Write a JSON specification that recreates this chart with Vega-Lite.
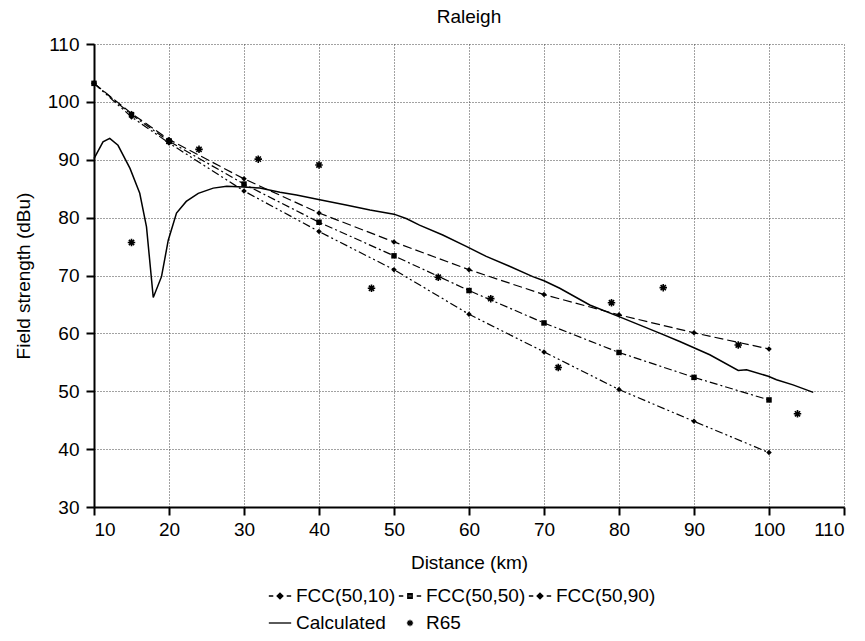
{
  "$schema": "https://vega.github.io/schema/vega-lite/v6.json",
  "autosize": {"type": "none"},
  "width": 750,
  "height": 463,
  "padding": {"left": 94, "top": 44, "right": 21, "bottom": 134},
  "background": "white",
  "title": {"text": "Raleigh", "fontSize": 19, "fontWeight": "normal", "font": "Liberation Sans", "color": "black", "anchor": "middle", "frame": "group", "offset": 8},
  "config": {
    "font": "Liberation Sans",
    "view": {"stroke": null},
    "axis": {
      "grid": true, "gridColor": "#444", "gridDash": [1, 2], "gridWidth": 1,
      "domainColor": "black", "domainWidth": 2,
      "tickColor": "black", "tickWidth": 2, "tickSize": 8,
      "labelFontSize": 19, "labelColor": "black", "labelFont": "Liberation Sans",
      "titleFontSize": 19, "titleFontWeight": "normal", "titleColor": "black", "titleFont": "Liberation Sans"
    },
    "legend": {"labelFontSize": 19, "labelFont": "Liberation Sans", "labelColor": "black"}
  },
  "datasets": {
    "fcc": [
      {"series": "FCC(50,10)", "d": 10, "v": 103.2},
      {"series": "FCC(50,10)", "d": 15, "v": 98.0},
      {"series": "FCC(50,10)", "d": 20, "v": 93.5},
      {"series": "FCC(50,10)", "d": 30, "v": 86.7},
      {"series": "FCC(50,10)", "d": 40, "v": 80.8},
      {"series": "FCC(50,10)", "d": 50, "v": 75.8},
      {"series": "FCC(50,10)", "d": 60, "v": 71.0},
      {"series": "FCC(50,10)", "d": 70, "v": 66.7},
      {"series": "FCC(50,10)", "d": 80, "v": 63.2},
      {"series": "FCC(50,10)", "d": 90, "v": 60.1},
      {"series": "FCC(50,10)", "d": 100, "v": 57.3},
      {"series": "FCC(50,50)", "d": 10, "v": 103.2},
      {"series": "FCC(50,50)", "d": 15, "v": 97.8},
      {"series": "FCC(50,50)", "d": 20, "v": 93.2},
      {"series": "FCC(50,50)", "d": 30, "v": 85.8},
      {"series": "FCC(50,50)", "d": 40, "v": 79.2},
      {"series": "FCC(50,50)", "d": 50, "v": 73.4},
      {"series": "FCC(50,50)", "d": 60, "v": 67.4},
      {"series": "FCC(50,50)", "d": 70, "v": 61.8},
      {"series": "FCC(50,50)", "d": 80, "v": 56.7},
      {"series": "FCC(50,50)", "d": 90, "v": 52.4},
      {"series": "FCC(50,50)", "d": 100, "v": 48.5},
      {"series": "FCC(50,90)", "d": 10, "v": 103.2},
      {"series": "FCC(50,90)", "d": 15, "v": 97.4},
      {"series": "FCC(50,90)", "d": 20, "v": 92.9},
      {"series": "FCC(50,90)", "d": 30, "v": 84.6},
      {"series": "FCC(50,90)", "d": 40, "v": 77.6},
      {"series": "FCC(50,90)", "d": 50, "v": 71.0},
      {"series": "FCC(50,90)", "d": 60, "v": 63.3},
      {"series": "FCC(50,90)", "d": 70, "v": 56.8},
      {"series": "FCC(50,90)", "d": 80, "v": 50.3},
      {"series": "FCC(50,90)", "d": 90, "v": 44.8},
      {"series": "FCC(50,90)", "d": 100, "v": 39.4}
    ],
    "calc": [
      {"d": 10.0, "v": 90.2}, {"d": 11.2, "v": 93.1}, {"d": 12.1, "v": 93.7}, {"d": 13.2, "v": 92.5},
      {"d": 14.8, "v": 88.5}, {"d": 16.1, "v": 84.2}, {"d": 17.0, "v": 78.4}, {"d": 17.9, "v": 66.2},
      {"d": 19.0, "v": 69.8}, {"d": 19.9, "v": 76.1}, {"d": 21.0, "v": 80.8}, {"d": 22.3, "v": 82.8},
      {"d": 23.9, "v": 84.2}, {"d": 25.9, "v": 85.1}, {"d": 27.7, "v": 85.4}, {"d": 29.9, "v": 85.3},
      {"d": 32.1, "v": 85.1}, {"d": 34.8, "v": 84.4}, {"d": 37.0, "v": 83.9}, {"d": 40.1, "v": 83.1},
      {"d": 43.6, "v": 82.2}, {"d": 46.8, "v": 81.3}, {"d": 50.0, "v": 80.6}, {"d": 51.7, "v": 79.8},
      {"d": 53.4, "v": 78.7}, {"d": 56.5, "v": 77.0}, {"d": 59.7, "v": 75.0}, {"d": 62.3, "v": 73.3},
      {"d": 65.4, "v": 71.6}, {"d": 68.5, "v": 69.8}, {"d": 70.0, "v": 69.1}, {"d": 72.1, "v": 67.8},
      {"d": 76.1, "v": 64.9}, {"d": 80.0, "v": 62.9}, {"d": 85.5, "v": 60.0}, {"d": 88.1, "v": 58.6},
      {"d": 92.1, "v": 56.3}, {"d": 95.9, "v": 53.6}, {"d": 97.0, "v": 53.7}, {"d": 99.9, "v": 52.6},
      {"d": 101.0, "v": 52.0}, {"d": 103.2, "v": 51.1}, {"d": 105.9, "v": 49.8}
    ],
    "r65": [
      {"d": 15, "v": 75.7}, {"d": 20, "v": 93.2}, {"d": 24, "v": 91.8}, {"d": 31.9, "v": 90.1},
      {"d": 40, "v": 89.1}, {"d": 47, "v": 67.8}, {"d": 55.9, "v": 69.7}, {"d": 62.9, "v": 66.0},
      {"d": 71.9, "v": 54.1}, {"d": 79, "v": 65.3}, {"d": 85.9, "v": 67.9}, {"d": 95.9, "v": 58.0},
      {"d": 103.8, "v": 46.1}
    ],
    "legend": [
      {"series": "FCC(50,10)"}, {"series": "FCC(50,50)"}, {"series": "FCC(50,90)"},
      {"series": "Calculated"}, {"series": "R65"}
    ]
  },
  "layer": [
    {
      "data": {"name": "fcc"},
      "mark": {"type": "line", "color": "black", "strokeWidth": 1.2},
      "encoding": {
        "x": {"field": "d", "type": "quantitative", "scale": {"domain": [10, 110], "nice": false},
              "axis": {"title": "Distance (km)", "values": [10, 20, 30, 40, 50, 60, 70, 80, 90, 100, 110], "labelPadding": 5, "titlePadding": 14,
                       "encode": {"ticks": {"update": {"y": {"value": -8}}}}}},
        "y": {"field": "v", "type": "quantitative", "scale": {"domain": [30, 110], "nice": false},
              "axis": {"title": "Field strength (dBu)", "values": [30, 40, 50, 60, 70, 80, 90, 100, 110], "labelPadding": 7, "titlePadding": 14,
                       "encode": {"ticks": {"update": {"x": {"value": 8}}}}}},
        "strokeDash": {"field": "series", "type": "nominal", "legend": null,
                       "scale": {"domain": ["FCC(50,10)", "FCC(50,50)", "FCC(50,90)"], "range": [[9, 4], [8, 3, 2, 3], [8, 3, 2, 3, 2, 3]]}}
      }
    },
    {
      "data": {"name": "fcc"},
      "transform": [{"filter": "datum.series != 'FCC(50,50)'"}],
      "mark": {"type": "point", "shape": "diamond", "filled": true, "color": "black", "size": 30, "opacity": 1},
      "encoding": {
        "x": {"field": "d", "type": "quantitative"},
        "y": {"field": "v", "type": "quantitative"}
      }
    },
    {
      "data": {"name": "fcc"},
      "transform": [{"filter": "datum.series == 'FCC(50,50)'"}],
      "mark": {"type": "point", "shape": "square", "filled": true, "color": "black", "size": 30, "opacity": 1},
      "encoding": {
        "x": {"field": "d", "type": "quantitative"},
        "y": {"field": "v", "type": "quantitative"}
      }
    },
    {
      "data": {"name": "calc"},
      "mark": {"type": "line", "color": "black", "strokeWidth": 1.5},
      "encoding": {
        "x": {"field": "d", "type": "quantitative"},
        "y": {"field": "v", "type": "quantitative"}
      }
    },
    {
      "data": {"name": "r65"},
      "mark": {"type": "point", "shape": "M-1,0H1M0,-1V1M-0.7,-0.7L0.7,0.7M-0.7,0.7L0.7,-0.7", "filled": false, "color": "black", "strokeWidth": 1.6, "size": 56, "opacity": 1},
      "encoding": {
        "x": {"field": "d", "type": "quantitative"},
        "y": {"field": "v", "type": "quantitative"}
      }
    },
    {
      "data": {"name": "legend"},
      "transform": [{"filter": "false"}],
      "mark": {"type": "point", "filled": false, "color": "black", "strokeWidth": 1.3, "opacity": 1},
      "encoding": {
        "shape": {"field": "series", "type": "nominal",
          "scale": {"domain": ["FCC(50,10)", "FCC(50,50)", "FCC(50,90)", "Calculated", "R65"],
                    "range": [
                      "M-1,0H-0.6M0.6,0H1M0,-0.26L0.26,0L0,0.26L-0.26,0ZM0,-0.13L0.13,0L0,0.13L-0.13,0ZM-0.15,0H0.15",
                      "M-1,0H-0.6M0.6,0H1M-0.2,-0.2H0.2V0.2H-0.2ZM-0.2,-0.07H0.2M-0.2,0.07H0.2",
                      "M-1,0H-0.6M0.6,0H1M0,-0.26L0.26,0L0,0.26L-0.26,0ZM0,-0.13L0.13,0L0,0.13L-0.13,0ZM-0.15,0H0.15",
                      "M-1,0H1",
                      "M-0.28,0H0.28M0,-0.28V0.28M-0.2,-0.2L0.2,0.2M-0.2,0.2L0.2,-0.2"
                    ]},
          "legend": {"title": null, "orient": "none", "legendX": 174, "legendY": 540, "direction": "horizontal", "columns": 3,
                     "gridAlign": "all",
                     "symbolSize": 500, "symbolStrokeColor": "black", "symbolStrokeWidth": 1.3, "symbolOpacity": 1,
                     "labelOffset": 4, "columnPadding": 0, "rowPadding": 5, "labelLimit": 0}}
      }
    }
  ]
}
